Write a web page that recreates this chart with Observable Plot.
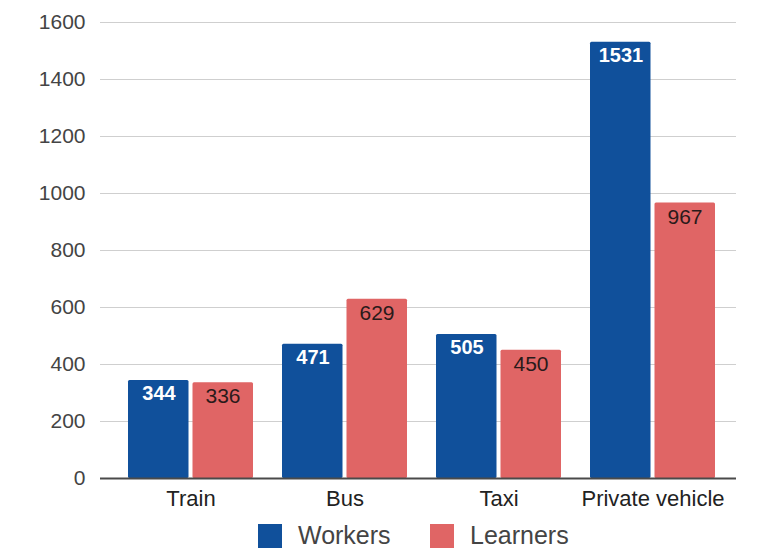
<!DOCTYPE html>
<html>
<head>
<meta charset="utf-8">
<script src="https://cdn.jsdelivr.net/npm/d3@7"></script>
<script src="https://cdn.jsdelivr.net/npm/@observablehq/plot@0.6"></script>
<style>
  html, body { margin: 0; padding: 0; background: #fff; }
  body { width: 776px; height: 550px; overflow: hidden; font-family: "Liberation Sans", Arial, sans-serif; }
  #chart svg { display: block; }
  #legend { position: relative; height: 38px; }
  .sw { position: absolute; top: 9px; height: 29px; display: flex; align-items: center; font-size: 25px; line-height: 29px; color: #444; white-space: nowrap; }
  .sw span.box { display: inline-block; width: 24px; height: 24px; margin-right: 16px; }
</style>
</head>
<body>
<div id="chart"></div>
<div id="legend"></div>
<script>
const categories = ["Train", "Bus", "Taxi", "Private vehicle"];
const series = ["Workers", "Learners"];
const workers = [344, 471, 505, 1531];
const learners = [336, 629, 450, 967];
const yTicks = [0, 200, 400, 600, 800, 1000, 1200, 1400, 1600];
const colors = ["#10509b", "#e06565"];

const wData = categories.map((c, i) => ({category: c, value: workers[i]}));
const lData = categories.map((c, i) => ({category: c, value: learners[i]}));

const half = 64.5;
const plot = Plot.plot({
  width: 776,
  height: 512,
  marginLeft: 100,
  marginRight: 40,
  marginTop: 22,
  marginBottom: 34,
  style: {fontFamily: "'Liberation Sans', Arial, sans-serif", fontSize: "21px", color: "#444", background: "#fff", overflow: "visible"},
  x: {domain: categories, range: [126, 717], paddingInner: 0.187, paddingOuter: 0, label: null, tickSize: 0, tickPadding: 12},
  y: {domain: [0, 1600], ticks: yTicks, tickFormat: d => String(d), label: null, tickSize: 0, tickPadding: 15},
  marks: [
    Plot.ruleY(yTicks, {stroke: "#cfcfcf", strokeWidth: 1.2}),
    Plot.barY(wData, {x: "category", y: "value", fill: colors[0], insetRight: half, rx: 1.5}),
    Plot.barY(lData, {x: "category", y: "value", fill: colors[1], insetLeft: half, rx: 1.5}),
    Plot.ruleY([0], {stroke: "#4a4a4a", strokeWidth: 2}),
    Plot.text(wData, {x: "category", y: "value", text: d => String(d.value), dx: -32, dy: 13, fill: "#fff", fontWeight: "bold", fontSize: 20}),
    Plot.text(lData, {x: "category", y: "value", text: d => String(d.value), dx: 32, dy: 14, fill: "#2a1a1a", fontSize: 21})
  ]
});
plot.querySelectorAll("[aria-label='x-axis'] text, [aria-label='x-axis tick label'] text").forEach(t => { t.setAttribute("fill", "#222"); t.style.fontSize = "22px"; });
document.getElementById("chart").appendChild(plot);

const legend = document.getElementById("legend");
const lefts = [258, 430];
series.forEach((s, i) => {
  const d = document.createElement("div");
  d.className = "sw";
  d.style.left = lefts[i] + "px";
  const b = document.createElement("span");
  b.className = "box";
  b.style.background = colors[i];
  d.appendChild(b);
  d.appendChild(document.createTextNode(s));
  legend.appendChild(d);
});
</script>
</body>
</html>
